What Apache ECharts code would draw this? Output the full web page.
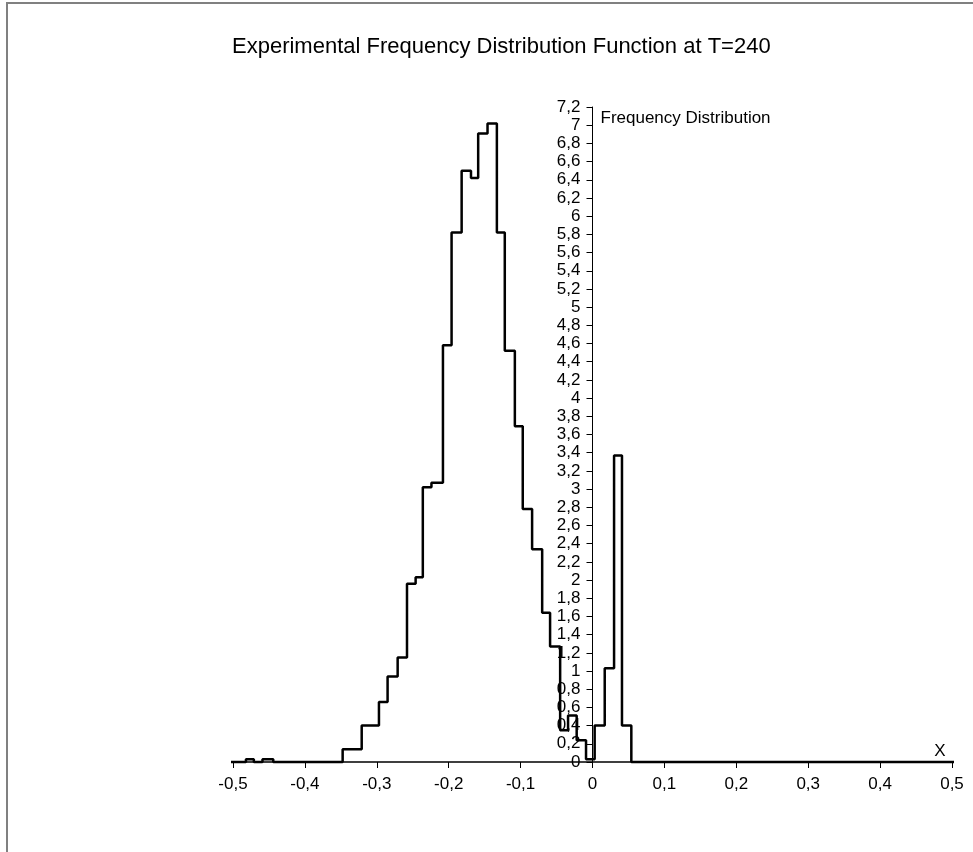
<!DOCTYPE html>
<html>
<head>
<meta charset="utf-8">
<script src="https://cdn.jsdelivr.net/npm/echarts@6/dist/echarts.min.js"></script>
<style>
html,body{margin:0;padding:0;background:#fff;}
#chart{width:973px;height:852px;}
</style>
</head>
<body>
<div id="chart"></div>
<script>
// Bin left edges (x) and heights of the experimental histogram
var binEdges = [-0.505, -0.482, -0.471, -0.459, -0.444, -0.3475, -0.321, -0.297, -0.285, -0.271,
  -0.258, -0.246, -0.236, -0.224, -0.208, -0.196, -0.182, -0.169, -0.159, -0.146,
  -0.133, -0.122, -0.108, -0.097, -0.084, -0.070, -0.059, -0.045, -0.034, -0.022,
  -0.009, 0.003, 0.017, 0.030, 0.041, 0.054];
var binHeights = [0, 0.03, 0, 0.03, 0, 0.14, 0.40, 0.66, 0.94, 1.15,
  1.96, 2.03, 3.02, 3.07, 4.58, 5.82, 6.50, 6.42, 6.91, 7.02,
  5.82, 4.52, 3.69, 2.78, 2.34, 1.64, 1.27, 0.35, 0.51, 0.24,
  0.03, 0.40, 1.03, 3.37, 0.40, 0];
var lastEdge = 0.503;

var xTicks = { min: -0.5, max: 0.5, step: 0.1 };
var yTicks = { min: 0, max: 7.2, step: 0.2 };

var titleText = 'Experimental Frequency Distribution Function at T=240';
var yName = 'Frequency Distribution';
var xName = 'X';

function fmt(v) {
  var r = Math.round(v * 10) / 10;
  return String(r).replace('.', ',');
}

var seriesData = [];
for (var i = 0; i < binEdges.length; i++) {
  seriesData.push([binEdges[i], binHeights[i]]);
}
seriesData.push([lastEdge, 0]);

var gridLeft = 233, gridRight = 21, chartW = 973;
var plotW = chartW - gridLeft - gridRight;
// shift the y axis (line, ticks and labels) to x = 0 of the x scale
var yOffset = -plotW * (0 - xTicks.min) / (xTicks.max - xTicks.min);

var chart = echarts.init(document.getElementById('chart'), null, { renderer: 'canvas' });
var font = '"Liberation Sans", Arial, sans-serif';
chart.setOption({
  animation: false,
  backgroundColor: '#fff',
  title: {
    text: titleText,
    left: 227,
    top: 31,
    textStyle: { fontFamily: font, fontSize: 22, fontWeight: 'normal', color: '#000' }
  },
  graphic: [{
    type: 'rect',
    shape: { x: 7, y: 3, width: 1000, height: 900 },
    style: { fill: 'none', stroke: '#808080', lineWidth: 2 },
    silent: true
  }],
  grid: { left: gridLeft, right: gridRight, top: 107, bottom: 90, containLabel: false },
  xAxis: {
    type: 'value',
    min: xTicks.min, max: xTicks.max, interval: xTicks.step,
    name: xName,
    nameLocation: 'end',
    nameGap: -12,
    nameTextStyle: { fontFamily: font, fontSize: 17, color: '#000', align: 'center', verticalAlign: 'bottom', padding: [0, 0, 2, 0] },
    axisLine: { onZero: true, lineStyle: { color: '#000', width: 1.5 } },
    axisTick: { show: true, length: 6, lineStyle: { color: '#000', width: 1 } },
    axisLabel: { margin: 14, fontFamily: font, fontSize: 17, color: '#000', formatter: fmt, showMinLabel: true, showMaxLabel: true },
    splitLine: { show: false }
  },
  yAxis: {
    type: 'value',
    position: 'left',
    offset: yOffset,
    min: yTicks.min, max: yTicks.max, interval: yTicks.step,
    name: yName,
    nameLocation: 'end',
    nameGap: -11,
    nameTextStyle: { fontFamily: font, fontSize: 17, color: '#000', align: 'left', verticalAlign: 'middle', padding: [0, 0, 0, 8] },
    axisLine: { show: true, onZero: false, lineStyle: { color: '#000', width: 1 } },
    axisTick: { show: true, length: 6, lineStyle: { color: '#000', width: 1 } },
    axisLabel: { margin: 12, fontFamily: font, fontSize: 17, color: '#000', formatter: fmt, showMinLabel: true, showMaxLabel: true },
    splitLine: { show: false }
  },
  series: [{
    type: 'line',
    step: 'end',
    data: seriesData,
    symbol: 'none',
    clip: false,
    lineStyle: { color: '#000', width: 2.5 },
    z: 3
  }]
});
</script>
</body>
</html>
